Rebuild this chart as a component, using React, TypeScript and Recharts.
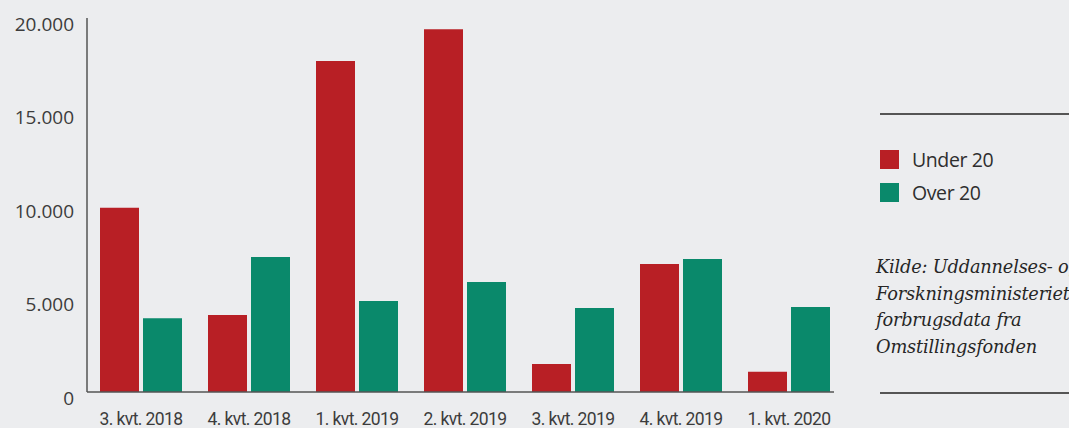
import React from "react";
import { BarChart, Bar, XAxis, YAxis } from "recharts";

const quarters = [
  "3. kvt. 2018",
  "4. kvt. 2018",
  "1. kvt. 2019",
  "2. kvt. 2019",
  "3. kvt. 2019",
  "4. kvt. 2019",
  "1. kvt. 2020",
];
const under20 = [9850, 4120, 17700, 19400, 1500, 6850, 1080];
const over20 = [3950, 7220, 4870, 5880, 4490, 7110, 4550];
const yTicks = [0, 5000, 10000, 15000, 20000];
const seriesNames = ["Under 20", "Over 20"];
const sourceLines = [
  "Kilde: Uddannelses- og",
  "Forskningsministeriets",
  "forbrugsdata fra",
  "Omstillingsfonden",
];

const RED = "#b81f25";
const GREEN = "#0a896b";
const BG = "#ecedef";
const INK = "#3c3c3c";

const data = quarters.map((q, i) => ({ q, under: under20[i], over: over20[i] }));

function fmt(v: number): string {
  return String(v).replace(/\B(?=(\d{3})+(?!\d))/g, ".");
}

function YTick(props: any) {
  const { x, y, payload } = props;
  return (
    <text x={x} y={y + 6} dy="0.36em" textAnchor="end" fill={INK}
      style={{ fontFamily: "'Open Sans'", fontSize: 19 }}>
      {fmt(payload.value)}
    </text>
  );
}

function XTick(props: any) {
  const { x, y, payload } = props;
  return (
    <text x={x} y={y} dy="0.36em" textAnchor="middle" fill={INK}
      style={{ fontFamily: "Roboto", fontSize: 17.5, letterSpacing: -0.6 }}>
      {payload.value}
    </text>
  );
}

export default function App() {
  return (
    <div style={{ position: "absolute", left: 0, top: 0, width: 1069, height: 428, background: BG, overflow: "hidden" }}>
      <BarChart width={850} height={428} data={data}
        margin={{ top: 18, right: 16, bottom: 0, left: 0 }}
        barSize={39} barGap={4}>
        <XAxis dataKey="q" height={36} tickLine={false} padding={{ left: 0, right: -9 }}
          axisLine={{ stroke: "#555", strokeWidth: 1.5 }}
          tick={<XTick />} tickSize={0} tickMargin={27} interval={0} />
        <YAxis domain={[0, 20000]} ticks={yTicks} width={87} tickLine={false}
          axisLine={{ stroke: "#555", strokeWidth: 1.5 }}
          tick={<YTick />} tickSize={0} tickMargin={13} />
        <Bar dataKey="under" name={seriesNames[0]} fill={RED} isAnimationActive={false} />
        <Bar dataKey="over" name={seriesNames[1]} fill={GREEN} isAnimationActive={false} />
      </BarChart>

      <div style={{ position: "absolute", left: 880, top: 113, width: 189, height: 0, borderTop: "2px solid #555" }} />
      <div style={{ position: "absolute", left: 880, top: 392, width: 189, height: 0, borderTop: "2px solid #555" }} />

      {seriesNames.map((name, i) => (
        <div key={name} style={{ position: "absolute", left: 880, top: 150 + i * 33, display: "flex", alignItems: "center",
          fontFamily: "'Open Sans'", fontSize: 19.5, color: "#2e2e2e", letterSpacing: -0.4, whiteSpace: "nowrap" }}>
          <span style={{ display: "inline-block", width: 19, height: 19, background: i === 0 ? RED : GREEN, marginRight: 13 }} />
          <span style={{ lineHeight: "19px" }}>{name}</span>
        </div>
      ))}

      <div style={{ position: "absolute", left: 876, top: 254, fontFamily: "'DejaVu Serif'", fontStyle: "italic",
        fontSize: 17.8, lineHeight: "26.5px", color: "#262626", whiteSpace: "nowrap", letterSpacing: -0.2 }}>
        {sourceLines.map((l) => <div key={l}>{l}</div>)}
      </div>
    </div>
  );
}
